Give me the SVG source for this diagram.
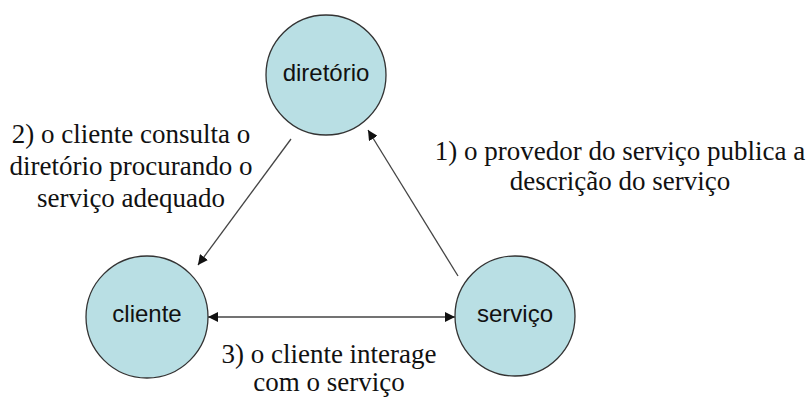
<svg xmlns="http://www.w3.org/2000/svg" width="810" height="401" viewBox="0 0 810 401">
<style>
.node{fill:#b9dfe4;stroke:#333;stroke-width:1.3}
.nl{font-family:"Liberation Sans",Arial,sans-serif;font-size:24px;fill:#111;text-anchor:middle}
.lbl{font-family:"Liberation Serif","Times New Roman",serif;font-size:27px;fill:#111;text-anchor:middle}
.c{stroke:#444;stroke-width:1.3;fill:none}
</style>
<defs>
<marker id="ah" viewBox="0 0 10 10" refX="10" refY="5" markerWidth="10" markerHeight="10" markerUnits="userSpaceOnUse" orient="auto-start-reverse">
<path d="M0,0 L10,5 L0,10 z" fill="#111"/>
</marker>
</defs>
<rect width="810" height="401" fill="#fff"/>
<g id="diretorio"><circle class="node" cx="326" cy="75" r="60"/><text class="nl" x="326" y="81">diretório</text></g>
<g id="cliente"><circle class="node" cx="147" cy="317" r="61"/><text class="nl" x="147" y="322">cliente</text></g>
<g id="servico"><circle class="node" cx="515" cy="316" r="60"/><text class="nl" x="515" y="322">serviço</text></g>
<g id="connectors">
<line class="c" x1="291" y1="139" x2="198" y2="265" marker-end="url(#ah)"/>
<line class="c" x1="458" y1="276" x2="368" y2="130" marker-end="url(#ah)"/>
<line class="c" x1="208" y1="317" x2="455" y2="317" marker-start="url(#ah)" marker-end="url(#ah)"/>
</g>
<g id="labels">
<text class="lbl" x="131" y="143">2) o cliente consulta o</text>
<text class="lbl" x="131" y="175">diretório procurando o</text>
<text class="lbl" x="131" y="207">serviço adequado</text>
<text class="lbl" x="620" y="160">1) o provedor do serviço publica a</text>
<text class="lbl" x="620" y="190">descrição do serviço</text>
<text class="lbl" x="329" y="363">3) o cliente interage</text>
<text class="lbl" x="329" y="391">com o serviço</text>
</g>
</svg>
